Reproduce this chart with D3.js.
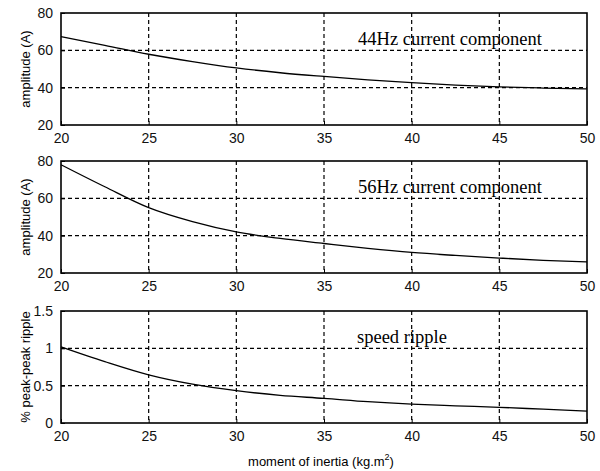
<!DOCTYPE html>
<html>
<head>
<meta charset="utf-8">
<script src="https://cdn.jsdelivr.net/npm/d3@7"></script>
<style>
  body { margin: 0; background: #fff; }
  .tick text { font-family: "Liberation Sans", Arial, sans-serif; font-size: 14px; fill: #111; }
  .grid line { stroke: #000; stroke-dasharray: 4,3; stroke-width: 1.2; }
</style>
</head>
<body>
<svg id="chart" width="600" height="471"></svg>
<script>
// values
const inertia = [20, 22.5, 25, 27.5, 30, 32.5, 35, 37.5, 40, 42.5, 45, 47.5, 50]
const amp44 = [67.3, 62.7, 57.9, 54, 50.6, 48, 46, 44.2, 42.7, 41.4, 40.4, 39.8, 39.3]
const amp56 = [78, 66.2, 55, 47.5, 42, 38.5, 35.8, 33.2, 31, 29.4, 28, 26.8, 26]
const speedRipple = [1.02, 0.822, 0.645, 0.52, 0.433, 0.37, 0.33, 0.285, 0.252, 0.23, 0.21, 0.185, 0.16]

const xTicks = [20, 25, 30, 35, 40, 45, 50]
const ampTicks = [20, 40, 60, 80]
const rippleTicks = [0, 0.5, 1, 1.5]

const panels = [
  { top: 13, values: amp44, domain: [20, 80], ticks: ampTicks, ylabel: 'amplitude (A)', title: '44Hz current component', tx: 450, anchor: 'middle' },
  { top: 161, values: amp56, domain: [20, 80], ticks: ampTicks, ylabel: 'amplitude (A)', title: '56Hz current component', tx: 450, anchor: 'middle' },
  { top: 311, values: speedRipple, domain: [0, 1.5], ticks: rippleTicks, ylabel: '% peak-peak ripple', title: 'speed ripple', tx: 357, anchor: 'start' }
]

const left = 61, right = 587, h = 112
const svg = d3.select('#chart')

const x = d3.scaleLinear().domain([20, 50]).range([left, right])

panels.forEach(p => {
  const y = d3.scaleLinear().domain(p.domain).range([p.top + h, p.top])
  const g = svg.append('g')

  // grid
  const grid = g.append('g').attr('class', 'grid')
  grid.selectAll('.vx').data(xTicks.slice(1, -1)).enter().append('line')
    .attr('x1', d => x(d)).attr('x2', d => x(d))
    .attr('y1', p.top).attr('y2', p.top + h)
  grid.selectAll('.hy').data(p.ticks.slice(1, -1)).enter().append('line')
    .attr('x1', left).attr('x2', right)
    .attr('y1', d => y(d)).attr('y2', d => y(d))

  // axes
  const xa = g.append('g')
    .attr('transform', `translate(0,${p.top + h})`)
    .call(d3.axisBottom(x).tickValues(xTicks).tickSize(-4).tickPadding(8).tickFormat(d3.format('d')))
  const ya = g.append('g')
    .attr('transform', `translate(${left},0)`)
    .call(d3.axisLeft(y).tickValues(p.ticks).tickSize(-4).tickPadding(8).tickFormat(d => d))
  ;[xa, ya].forEach(a => {
    a.select('.domain').remove()
    a.selectAll('.tick line').attr('stroke', '#000')
  })

  // box
  g.append('rect')
    .attr('x', left).attr('y', p.top)
    .attr('width', right - left).attr('height', h)
    .attr('fill', 'none').attr('stroke', '#000').attr('stroke-width', 1.6)

  // curve
  const line = d3.line()
    .x((d, i) => x(inertia[i]))
    .y(d => y(d))
    .curve(d3.curveMonotoneX)
  g.append('path')
    .datum(p.values)
    .attr('d', line)
    .attr('fill', 'none')
    .attr('stroke', '#000')
    .attr('stroke-width', 1.3)

  // panel title
  g.append('text')
    .attr('x', p.tx).attr('y', p.top + 32)
    .attr('text-anchor', p.anchor)
    .style('font-family', '"Liberation Serif", "Times New Roman", serif')
    .style('font-size', '18.5px')
    .text(p.title)

  // y label
  g.append('text')
    .attr('transform', `translate(25,${p.top + h / 2}) rotate(-90)`)
    .attr('text-anchor', 'middle')
    .attr('dy', '0.35em')
    .style('font-family', '"Liberation Sans", Arial, sans-serif')
    .style('font-size', '13px')
    .text(p.ylabel)
})

const xl = svg.append('text')
  .attr('x', 321).attr('y', 466)
  .attr('text-anchor', 'middle')
  .style('font-family', '"Liberation Sans", Arial, sans-serif')
  .style('font-size', '13px')
xl.append('tspan').text('moment of inertia (kg.m')
xl.append('tspan').attr('dy', -6).style('font-size', '9px').text('2')
xl.append('tspan').attr('dy', 6).text(')')
</script>
</body>
</html>
